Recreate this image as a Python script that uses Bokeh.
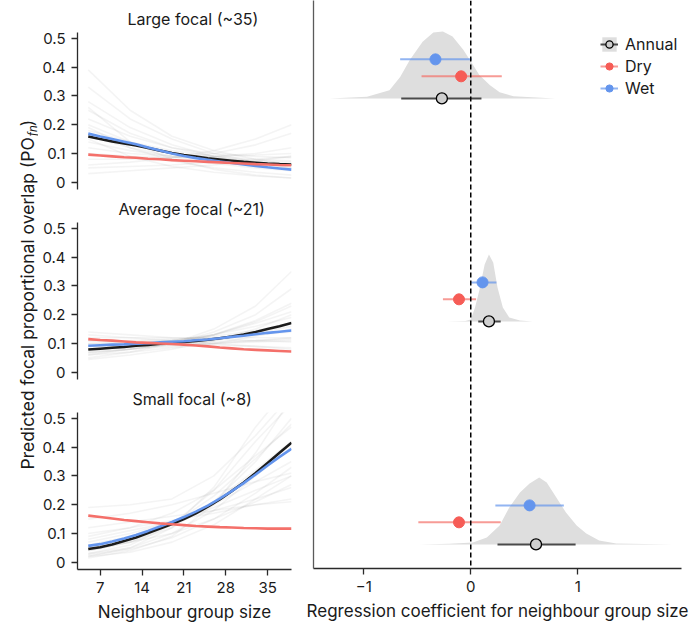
import numpy as np
from bokeh.plotting import figure
from bokeh.layouts import row, column
from bokeh.models import Range1d, FixedTicker, Span, Legend, LegendItem
from bokeh.core.properties import value
from bokeh.embed import file_html
from bokeh.resources import INLINE

FONT = "Inter"
TXT = "#1a1a1a"

# ---------------- left panels: predicted proportional overlap ----------------
PANEL_TITLES = ["Large focal (~35)", "Average focal (~21)", "Small focal (~8)"]
X_TICKS = [7, 14, 21, 28, 35]
Y_TICKS = [0, 0.1, 0.2, 0.3, 0.4, 0.5]

CURVE_X = [5, 7, 9, 11, 13, 15, 17, 19, 21, 23, 25, 27, 29, 31, 33, 35, 37, 39]
ANNUAL_LARGE = [0.159, 0.150, 0.142, 0.135, 0.128, 0.119, 0.110, 0.102, 0.095, 0.089, 0.083, 0.079, 0.075, 0.071, 0.068, 0.065, 0.063, 0.062]
WET_LARGE = [0.169, 0.159, 0.150, 0.141, 0.132, 0.121, 0.110, 0.100, 0.091, 0.084, 0.078, 0.072, 0.067, 0.062, 0.057, 0.052, 0.048, 0.044]
DRY_LARGE = [0.096, 0.093, 0.090, 0.087, 0.085, 0.082, 0.080, 0.077, 0.075, 0.073, 0.071, 0.069, 0.067, 0.065, 0.063, 0.062, 0.060, 0.059]

ANNUAL_AVERAGE = [0.079, 0.082, 0.085, 0.088, 0.092, 0.095, 0.099, 0.102, 0.105, 0.109, 0.113, 0.118, 0.124, 0.131, 0.140, 0.150, 0.160, 0.171]
WET_AVERAGE = [0.092, 0.094, 0.096, 0.097, 0.099, 0.101, 0.104, 0.106, 0.108, 0.111, 0.114, 0.118, 0.123, 0.127, 0.132, 0.137, 0.141, 0.145]
DRY_AVERAGE = [0.115, 0.112, 0.110, 0.107, 0.104, 0.102, 0.100, 0.098, 0.096, 0.093, 0.090, 0.086, 0.083, 0.080, 0.078, 0.076, 0.074, 0.072]

ANNUAL_SMALL = [0.046, 0.052, 0.062, 0.074, 0.086, 0.102, 0.117, 0.133, 0.150, 0.170, 0.193, 0.218, 0.247, 0.277, 0.310, 0.345, 0.380, 0.415]
WET_SMALL = [0.057, 0.063, 0.072, 0.083, 0.095, 0.109, 0.124, 0.140, 0.157, 0.176, 0.197, 0.221, 0.247, 0.275, 0.305, 0.336, 0.366, 0.394]
DRY_SMALL = [0.162, 0.157, 0.152, 0.147, 0.143, 0.139, 0.135, 0.132, 0.129, 0.126, 0.124, 0.122, 0.121, 0.119, 0.118, 0.117, 0.117, 0.117]

# posterior draws (grey spaghetti)
DRAW_X = [5, 12, 19, 26, 33, 39]
DRAWS_LARGE = [
    [0.39, 0.25, 0.16, 0.11, 0.08, 0.06],
    [0.33, 0.22, 0.15, 0.10, 0.07, 0.05],
    [0.28, 0.19, 0.13, 0.09, 0.065, 0.05],
    [0.25, 0.17, 0.12, 0.09, 0.07, 0.06],
    [0.22, 0.16, 0.12, 0.10, 0.09, 0.085],
    [0.20, 0.14, 0.10, 0.075, 0.055, 0.045],
    [0.18, 0.14, 0.11, 0.09, 0.08, 0.075],
    [0.16, 0.12, 0.09, 0.065, 0.05, 0.04],
    [0.14, 0.11, 0.09, 0.08, 0.075, 0.07],
    [0.12, 0.10, 0.09, 0.09, 0.095, 0.10],
    [0.10, 0.09, 0.085, 0.09, 0.10, 0.12],
    [0.08, 0.08, 0.085, 0.10, 0.13, 0.17],
    [0.06, 0.07, 0.085, 0.11, 0.15, 0.20],
    [0.26, 0.14, 0.08, 0.045, 0.025, 0.015],
    [0.15, 0.09, 0.055, 0.035, 0.022, 0.015],
    [0.05, 0.055, 0.06, 0.07, 0.08, 0.09],
    [0.03, 0.04, 0.05, 0.06, 0.075, 0.09],
    [0.19, 0.12, 0.075, 0.05, 0.035, 0.025],
]
DRAWS_AVERAGE = [
    [0.05, 0.07, 0.10, 0.15, 0.23, 0.35],
    [0.06, 0.08, 0.10, 0.14, 0.20, 0.29],
    [0.07, 0.08, 0.10, 0.13, 0.18, 0.24],
    [0.08, 0.09, 0.11, 0.13, 0.17, 0.21],
    [0.09, 0.10, 0.11, 0.13, 0.16, 0.19],
    [0.10, 0.105, 0.11, 0.125, 0.145, 0.17],
    [0.11, 0.11, 0.115, 0.12, 0.13, 0.14],
    [0.12, 0.12, 0.12, 0.12, 0.12, 0.12],
    [0.14, 0.13, 0.12, 0.115, 0.11, 0.105],
    [0.13, 0.12, 0.11, 0.10, 0.09, 0.08],
    [0.06, 0.07, 0.085, 0.10, 0.125, 0.15],
    [0.045, 0.06, 0.08, 0.11, 0.15, 0.20],
    [0.07, 0.08, 0.09, 0.10, 0.11, 0.12],
    [0.09, 0.09, 0.095, 0.10, 0.105, 0.11],
    [0.08, 0.085, 0.095, 0.11, 0.135, 0.16],
    [0.10, 0.10, 0.10, 0.105, 0.11, 0.115],
    [0.065, 0.08, 0.10, 0.13, 0.175, 0.23],
    [0.11, 0.105, 0.10, 0.095, 0.09, 0.085],
]
DRAWS_SMALL = [
    [0.02, 0.05, 0.12, 0.26, 0.47, 0.62],
    [0.03, 0.06, 0.13, 0.25, 0.42, 0.55],
    [0.04, 0.07, 0.13, 0.23, 0.36, 0.48],
    [0.05, 0.08, 0.13, 0.21, 0.32, 0.42],
    [0.06, 0.09, 0.14, 0.20, 0.28, 0.35],
    [0.07, 0.10, 0.14, 0.19, 0.25, 0.30],
    [0.08, 0.11, 0.14, 0.18, 0.22, 0.26],
    [0.10, 0.12, 0.145, 0.17, 0.20, 0.22],
    [0.12, 0.14, 0.16, 0.18, 0.20, 0.21],
    [0.15, 0.17, 0.20, 0.24, 0.28, 0.31],
    [0.19, 0.20, 0.22, 0.30, 0.44, 0.58],
    [0.015, 0.04, 0.09, 0.20, 0.38, 0.57],
    [0.03, 0.05, 0.10, 0.18, 0.30, 0.40],
    [0.025, 0.045, 0.085, 0.15, 0.24, 0.33],
    [0.05, 0.07, 0.10, 0.15, 0.21, 0.27],
    [0.04, 0.07, 0.12, 0.21, 0.35, 0.50],
    [0.09, 0.12, 0.17, 0.25, 0.37, 0.47],
    [0.02, 0.035, 0.07, 0.13, 0.22, 0.30],
]

# ---------------- right panel: regression coefficients ----------------
COEF_GROUPS = ["Large focal", "Average focal", "Small focal"]
COEF_TICKS = [-1, 0, 1]
ANNUAL_EST = [-0.27, 0.17, 0.61]
ANNUAL_LO = [-0.65, 0.07, 0.25]
ANNUAL_HI = [0.10, 0.28, 0.98]
DRY_EST = [-0.09, -0.11, -0.11]
DRY_LO = [-0.46, -0.26, -0.49]
DRY_HI = [0.29, 0.05, 0.28]
WET_EST = [-0.33, 0.11, 0.55]
WET_LO = [-0.66, 0.00, 0.23]
WET_HI = [0.01, 0.24, 0.87]

DENS_X_LARGE = [-1.32, -0.97, -0.76, -0.66, -0.57, -0.45, -0.35, -0.26, -0.17, -0.07, 0.01, 0.08, 0.18, 0.27, 0.40, 0.79]
DENS_Y_LARGE = [0, 1.7, 8, 21, 38, 56, 65, 66, 61, 48, 35, 23, 13, 6, 2, 0]
DENS_X_AVERAGE = [-0.22, -0.05, 0.0, 0.04, 0.08, 0.13, 0.17, 0.21, 0.25, 0.30, 0.36, 0.46, 0.58]
DENS_Y_AVERAGE = [0, 0.5, 2, 14, 31, 57, 67, 59, 34, 14, 4, 1, 0]
DENS_X_SMALL = [-0.48, -0.2, 0.02, 0.15, 0.27, 0.36, 0.46, 0.55, 0.64, 0.71, 0.80, 0.89, 0.99, 1.08, 1.2, 1.36, 1.89]
DENS_Y_SMALL = [0, 0.7, 2, 7, 19, 37, 52, 61, 67, 62, 47, 32, 19, 11, 4, 1, 0]

C_BLACK = "#1c1c1c"
C_RED = "#F4706A"
C_RED_PT = "#F65C56"
C_BLUE = "#6495ED"
C_GREY_FILL = "#DEDEDE"


def style_axis(ax):
    ax.axis_line_color = "#2a2a2a"
    ax.axis_line_width = 1.3
    ax.major_tick_line_color = "#2a2a2a"
    ax.major_tick_line_width = 1.3
    ax.major_tick_out = 6
    ax.major_tick_in = 0
    ax.minor_tick_line_color = None
    ax.major_label_text_font = FONT
    ax.major_label_text_font_size = "15px"
    ax.major_label_text_color = TXT
    ax.axis_label_text_font = FONT
    ax.axis_label_text_font_size = "17px"
    ax.axis_label_text_font_style = "normal"
    ax.axis_label_text_color = TXT


TITLE_OFFSETS = [50, 41, 55]


def left_panel(i, height, top_border, bottom_border, show_x, annual, wet, dry, draws):
    p = figure(width=262, height=height, x_range=Range1d(3.2, 39.0), y_range=Range1d(-0.025, 0.52),
               output_backend="svg", toolbar_location=None,
               min_border_left=39, min_border_right=9, min_border_top=top_border,
               min_border_bottom=bottom_border)
    p.grid.visible = False
    p.outline_line_color = None
    p.title.text = PANEL_TITLES[i]
    p.title.align = "left"
    p.title.offset = TITLE_OFFSETS[i]
    p.title.vertical_align = "bottom"
    p.title.standoff = 7
    p.title.text_font = FONT
    p.title.text_font_size = "16px"
    p.title.text_font_style = "normal"
    p.title.text_color = TXT

    for ax in p.yaxis:
        style_axis(ax)
        ax.ticker = FixedTicker(ticks=Y_TICKS)
        ax.major_label_overrides = {0: "0"}
        ax.major_label_standoff = 6
    if show_x:
        for ax in p.xaxis:
            style_axis(ax)
            ax.ticker = FixedTicker(ticks=X_TICKS)
            ax.major_label_standoff = 6
            ax.axis_label = "Neighbour group size"
            ax.axis_label_standoff = 6
    else:
        p.xaxis.visible = False

    p.multi_line(xs=[DRAW_X] * len(draws), ys=draws, line_color="#8a8a8a", line_alpha=0.09, line_width=1.6)
    p.line(CURVE_X, annual, line_color=C_BLACK, line_width=2.6)
    p.line(CURVE_X, wet, line_color=C_BLUE, line_width=2.6)
    p.line(CURVE_X, dry, line_color=C_RED, line_width=2.6)
    return p


f1 = left_panel(0, 192, 32, 3, False, ANNUAL_LARGE, WET_LARGE, DRY_LARGE, DRAWS_LARGE)
f2 = left_panel(1, 190, 30, 3, False, ANNUAL_AVERAGE, WET_AVERAGE, DRY_AVERAGE, DRAWS_AVERAGE)
f3 = left_panel(2, 246, 30, 59, True, ANNUAL_SMALL, WET_SMALL, DRY_SMALL, DRAWS_SMALL)

# ---- shared y label ----
H_TOTAL = 628
lab = figure(width=38, height=H_TOTAL, x_range=Range1d(0, 38), y_range=Range1d(0, H_TOTAL),
             output_backend="svg", toolbar_location=None, min_border=0,
             x_axis_type=None, y_axis_type=None)
lab.grid.visible = False
lab.outline_line_color = None
lab.text(x=[27], y=[H_TOTAL - 151], text=["Predicted focal proportional overlap (PO"], angle=np.pi / 2,
         text_align="right", text_baseline="alphabetic", text_font=value(FONT),
         text_font_size="17.5px", text_color=TXT)
lab.text(x=[32], y=[H_TOTAL - 150], text=["fn"], angle=np.pi / 2,
         text_align="left", text_baseline="alphabetic", text_font=value(FONT),
         text_font_size="11.5px", text_font_style="italic", text_color=TXT)
lab.text(x=[27], y=[H_TOTAL - 139], text=[")"], angle=np.pi / 2,
         text_align="left", text_baseline="alphabetic", text_font=value(FONT),
         text_font_size="17.5px", text_color=TXT)

# ---- right panel ----
q = figure(width=390, height=H_TOTAL, x_range=Range1d(-1.47, 1.97), y_range=Range1d(-0.108, 2.439),
           output_backend="svg", toolbar_location=None,
           min_border_left=13, min_border_right=9, min_border_top=0, min_border_bottom=60)
q.grid.visible = False
q.outline_line_color = None
for ax in q.xaxis:
    style_axis(ax)
    ax.ticker = FixedTicker(ticks=COEF_TICKS)
    ax.major_label_overrides = {-1: "\u22121"}
    ax.major_label_standoff = 6
    ax.axis_label = "Regression coefficient for neighbour group size"
    ax.axis_label_standoff = 6
for ax in q.yaxis:
    style_axis(ax)
    ax.axis_line_color = "#5a5a5a"
    ax.ticker = FixedTicker(ticks=[])
    ax.major_tick_out = 0
    ax.major_label_standoff = 0

DENS_PEAK = 0.30
DRY_OFF = 0.099
WET_OFF = 0.175
n_groups = len(COEF_GROUPS)
base = [float(n_groups - 1 - k) for k in range(n_groups)]

dens = [(DENS_X_LARGE, DENS_Y_LARGE), (DENS_X_AVERAGE, DENS_Y_AVERAGE), (DENS_X_SMALL, DENS_Y_SMALL)]
dens_r = []
for k, (dx, dy) in enumerate(dens):
    dy = np.array(dy, dtype=float)
    top = base[k] + DENS_PEAK * dy / dy.max()
    r = q.varea(x=dx, y1=[base[k]] * len(dx), y2=top, fill_color=C_GREY_FILL, fill_alpha=1.0)
    dens_r.append(r)

q.add_layout(Span(location=0, dimension="height", line_color="black", line_width=1.5, line_dash="5 3"))

base_arr = np.array(base)
ann_seg = q.segment(x0=ANNUAL_LO, x1=ANNUAL_HI, y0=base_arr, y1=base_arr, line_color="#4a4a4a", line_width=2)
dry_seg = q.segment(x0=DRY_LO, x1=DRY_HI, y0=base_arr + DRY_OFF, y1=base_arr + DRY_OFF,
                    line_color=C_RED, line_alpha=0.7, line_width=2)
wet_seg = q.segment(x0=WET_LO, x1=WET_HI, y0=base_arr + WET_OFF, y1=base_arr + WET_OFF,
                    line_color=C_BLUE, line_alpha=0.7, line_width=2)
ann_pts = q.scatter(ANNUAL_EST, base_arr, size=11, fill_color="#CFCFCF", line_color="black", line_width=1.3)
dry_pts = q.scatter(DRY_EST, base_arr + DRY_OFF, size=11, fill_color=C_RED_PT, line_color=C_RED_PT)
wet_pts = q.scatter(WET_EST, base_arr + WET_OFF, size=11, fill_color=C_BLUE, line_color=C_BLUE)

legend = Legend(items=[
    LegendItem(label="Annual", renderers=[dens_r[0], ann_seg, ann_pts]),
    LegendItem(label="Dry", renderers=[dry_seg, dry_pts]),
    LegendItem(label="Wet", renderers=[wet_seg, wet_pts]),
], location=(287, 470))
legend.border_line_color = None
legend.background_fill_alpha = 0
legend.padding = 0
legend.margin = 0
legend.spacing = 2
legend.glyph_width = 18
legend.glyph_height = 18
legend.label_height = 18
legend.label_standoff = 7
legend.label_text_font = FONT
legend.label_text_font_size = "16px"
legend.label_text_color = TXT
q.add_layout(legend, "center")

layout = row(lab, column(f1, f2, f3), q)
open("out.html", "w").write(file_html(layout, INLINE))
